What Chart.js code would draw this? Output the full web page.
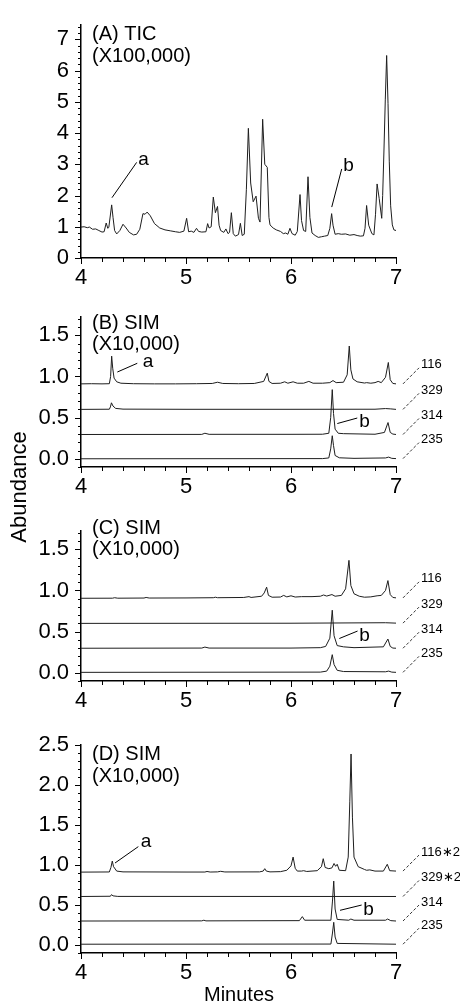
<!DOCTYPE html>
<html>
<head>
<meta charset="utf-8">
<script src="https://cdn.jsdelivr.net/npm/chart.js@4.4.1/dist/chart.umd.min.js"></script>
<style>
  html, body { margin: 0; padding: 0; background: #fff; }
  body { width: 460px; height: 1003px; position: relative; overflow: hidden;
         font-family: "Liberation Sans", Arial, sans-serif; color: #000; }
  canvas { position: absolute; left: 0; }
  #yTitle { position: absolute; left: -81px; top: 476px; width: 200px; line-height: 22px;
            font-size: 22px; text-align: center; transform: rotate(-90deg); }
  #xTitle { position: absolute; left: 139px; top: 984px; width: 200px; line-height: 20px;
            font-size: 20px; text-align: center; }
</style>
</head>
<body>
<canvas id="panelA" width="460" height="292" style="top:0px"></canvas>
<canvas id="panelB" width="460" height="214" style="top:292px"></canvas>
<canvas id="panelC" width="460" height="214" style="top:506px"></canvas>
<canvas id="panelD" width="460" height="283" style="top:720px"></canvas>
<div id="yTitle">Abundance</div>
<div id="xTitle">Minutes</div>

<script>
// ===== 데이터: [시간(min), abundance] =====
const ticTrace = [
  [4.00,0.99],[4.03,1.00],[4.06,0.97],[4.08,0.99],[4.11,0.92],[4.14,0.93],[4.17,0.88],[4.20,0.83],
  [4.22,0.84],[4.24,1.12],[4.255,0.95],[4.265,0.98],[4.292,1.70],[4.305,1.30],[4.32,0.88],[4.34,0.77],
  [4.37,0.88],[4.40,1.08],[4.43,0.96],[4.46,0.82],[4.50,0.74],[4.53,0.76],[4.56,0.92],[4.59,1.42],
  [4.61,1.40],[4.63,1.47],[4.66,1.35],[4.70,1.10],[4.75,0.96],[4.80,0.90],[4.85,0.87],[4.90,0.84],
  [4.94,0.82],[4.98,0.86],[5.006,1.27],[5.025,0.84],[5.05,0.86],[5.075,0.82],[5.10,0.95],[5.12,0.85],
  [5.15,0.83],[5.19,0.84],[5.206,1.10],[5.22,0.96],[5.24,1.00],[5.26,1.95],[5.28,1.45],[5.30,1.65],
  [5.315,1.05],[5.33,0.88],[5.36,0.82],[5.38,0.93],[5.40,0.78],[5.415,0.82],[5.432,1.45],[5.45,0.78],
  [5.47,0.70],[5.50,0.75],[5.518,1.11],[5.535,0.72],[5.555,0.76],[5.575,2.20],[5.594,4.15],[5.616,2.40],
  [5.64,1.80],[5.667,1.98],[5.69,1.27],[5.705,1.15],[5.73,4.44],[5.75,3.00],[5.774,2.90],[5.79,1.30],
  [5.80,1.06],[5.83,0.96],[5.86,0.90],[5.90,0.85],[5.927,0.78],[5.95,0.80],[5.97,0.76],[5.99,0.95],
  [6.01,0.78],[6.04,0.73],[6.06,0.85],[6.086,2.03],[6.10,1.20],[6.12,0.88],[6.14,0.85],[6.162,2.60],
  [6.18,1.30],[6.20,0.80],[6.23,0.72],[6.26,0.66],[6.29,0.68],[6.32,0.70],[6.35,0.72],[6.37,0.95],
  [6.387,1.42],[6.40,1.05],[6.42,0.76],[6.45,0.78],[6.48,0.76],[6.52,0.77],[6.56,0.73],[6.60,0.75],
  [6.63,0.72],[6.66,0.70],[6.69,0.71],[6.705,0.95],[6.72,1.68],[6.74,1.05],[6.77,0.78],[6.79,0.74],
  [6.805,1.40],[6.82,2.37],[6.84,1.90],[6.864,1.27],[6.873,2.00],[6.886,3.52],[6.898,5.06],[6.911,6.48],
  [6.924,4.95],[6.936,3.10],[6.949,1.67],[6.965,1.06],[6.98,0.90],[7.00,0.88]
];

// (B) SIM
const simB116 = [
  [4.00,0.910],[4.10,0.912],[4.20,0.910],[4.27,0.912],[4.282,1.00],[4.292,1.247],[4.302,1.10],[4.315,0.98],
  [4.34,0.935],[4.38,0.918],[4.50,0.912],[4.70,0.910],[4.90,0.910],[5.10,0.912],[5.25,0.915],[5.30,0.930],
  [5.35,0.915],[5.50,0.912],[5.65,0.915],[5.74,0.940],[5.774,1.04],[5.79,0.94],[5.82,0.915],[5.90,0.918],
  [5.94,0.935],[5.97,0.918],[6.02,0.935],[6.06,0.918],[6.12,0.918],[6.17,0.940],[6.21,0.918],[6.30,0.918],
  [6.37,0.925],[6.40,0.950],[6.43,0.925],[6.50,0.930],[6.535,1.02],[6.555,1.37],[6.57,1.08],[6.59,0.97],
  [6.63,0.935],[6.70,0.920],[6.72,0.925],[6.76,0.918],[6.80,0.925],[6.83,0.940],[6.86,0.925],[6.90,0.99],
  [6.927,1.17],[6.945,0.96],[6.97,0.915],[7.00,0.910]
];
const simB329 = [
  [4.00,0.600],[4.27,0.602],[4.28,0.630],[4.29,0.680],[4.305,0.640],[4.33,0.612],[4.40,0.603],
  [5.00,0.601],[6.00,0.601],[6.80,0.602],[6.90,0.610],[6.95,0.606],[7.00,0.600]
];
const simB314 = [
  [4.00,0.295],[5.15,0.296],[5.18,0.31],[5.22,0.297],[6.00,0.297],[6.30,0.298],[6.36,0.31],[6.378,0.50],
  [6.393,0.84],[6.405,0.55],[6.42,0.36],[6.45,0.31],[6.50,0.305],[6.80,0.298],[6.89,0.32],[6.924,0.44],
  [6.945,0.32],[6.97,0.30],[7.00,0.295]
];
const simB235 = [
  [4.00,0.000],[6.30,0.002],[6.36,0.01],[6.378,0.12],[6.393,0.28],[6.405,0.16],[6.42,0.04],[6.46,0.012],
  [6.60,0.005],[6.90,0.01],[6.93,0.02],[6.96,0.005],[7.00,0.002]
];

// (C) SIM
const simC116 = [
  [4.00,0.905],[4.30,0.906],[4.32,0.912],[4.35,0.906],[4.60,0.908],[4.62,0.915],[4.65,0.908],[5.00,0.909],
  [5.26,0.912],[5.28,0.918],[5.30,0.912],[5.55,0.915],[5.60,0.925],[5.62,0.915],[5.72,0.93],[5.745,0.97],
  [5.768,1.04],[5.785,0.94],[5.82,0.918],[5.90,0.92],[5.93,0.94],[5.96,0.922],[6.00,0.935],[6.04,0.92],
  [6.10,0.925],[6.20,0.925],[6.28,0.93],[6.31,0.945],[6.34,0.932],[6.39,0.95],[6.42,0.93],[6.48,0.94],
  [6.52,1.02],[6.552,1.366],[6.57,1.06],[6.60,0.96],[6.65,0.93],[6.70,0.918],[6.76,0.922],[6.82,0.935],
  [6.86,0.94],[6.90,1.00],[6.923,1.12],[6.945,0.95],[6.97,0.915],[7.00,0.910]
];
const simC329 = [[4.00,0.600],[5.00,0.601],[6.00,0.602],[6.90,0.608],[7.00,0.603]];
const simC314 = [
  [4.00,0.298],[5.15,0.300],[5.18,0.312],[5.22,0.300],[6.00,0.300],[6.28,0.305],[6.33,0.32],[6.37,0.42],
  [6.393,0.76],[6.41,0.45],[6.44,0.33],[6.50,0.315],[6.60,0.305],[6.88,0.315],[6.923,0.41],[6.945,0.32],
  [6.97,0.30],[7.00,0.298]
];
const simC235 = [
  [4.00,0.005],[6.28,0.008],[6.34,0.02],[6.37,0.08],[6.393,0.22],[6.41,0.10],[6.44,0.03],[6.50,0.015],
  [6.90,0.012],[6.93,0.02],[6.96,0.008],[7.00,0.005]
];

// (D) SIM
const simD116 = [
  [4.00,0.912],[4.27,0.914],[4.285,0.97],[4.298,1.05],[4.31,0.98],[4.34,0.925],[4.40,0.915],[5.00,0.913],
  [5.18,0.913],[5.20,0.920],[5.23,0.913],[5.30,0.915],[5.33,0.922],[5.37,0.914],[5.70,0.915],[5.735,0.925],
  [5.75,0.955],[5.765,0.925],[5.80,0.915],[5.90,0.918],[5.96,0.935],[6.00,0.99],[6.02,1.10],[6.04,0.96],
  [6.06,0.925],[6.10,0.925],[6.12,0.93],[6.15,0.92],[6.25,0.93],[6.29,0.98],[6.307,1.08],[6.325,0.97],
  [6.36,0.955],[6.39,0.965],[6.41,1.02],[6.425,0.985],[6.44,1.01],[6.46,0.935],[6.52,0.93],[6.545,1.10],
  [6.560,1.80],[6.572,2.39],[6.585,1.60],[6.60,1.10],[6.64,0.98],[6.70,0.945],[6.72,0.935],[6.75,0.940],
  [6.80,0.925],[6.88,0.925],[6.917,1.01],[6.94,0.93],[7.00,0.925]
];
const simD329 = [
  [4.00,0.607],[4.28,0.610],[4.29,0.630],[4.305,0.615],[4.35,0.608],[7.00,0.607]
];
const simD314 = [
  [4.00,0.300],[5.15,0.302],[5.17,0.31],[5.19,0.302],[6.08,0.305],[6.108,0.355],[6.13,0.31],[6.38,0.31],
  [6.395,0.55],[6.407,0.80],[6.42,0.45],[6.44,0.32],[6.55,0.31],[6.57,0.325],[6.60,0.31],[6.90,0.31],
  [6.92,0.325],[6.95,0.305],[7.00,0.300]
];
const simD235 = [
  [4.00,0.01],[6.38,0.012],[6.395,0.15],[6.407,0.284],[6.42,0.10],[6.44,0.02],[7.00,0.01]
];

// 이온 라벨 / 축 눈금
const simLabels = ['116', '329', '314', '235'];
const simLabelsD = ['116\u22172', '329\u22172', '314', '235'];
const timeTicks = [4, 5, 6, 7];
const ticTicks = [0, 1, 2, 3, 4, 5, 6, 7];
const simTicks = [0, 0.5, 1.0, 1.5];
const simTicksD = [0, 0.5, 1.0, 1.5, 2.0, 2.5];

// 피크 표시 (a, b)
const marksA = [
  { text: 'a', line: [[4.295, 1.93], [4.53, 3.06]], at: [4.546, 2.98] },
  { text: 'b', line: [[6.388, 1.63], [6.483, 2.85]], at: [6.498, 2.80] }
];
const marksB = [
  { text: 'a', line: [[4.346, 1.054], [4.536, 1.16]], at: [4.587, 1.113] },
  { text: 'b', line: [[6.441, 0.428], [6.631, 0.495]], at: [6.65, 0.388] }
];
const marksC = [
  { text: 'b', line: [[6.46, 0.416], [6.634, 0.507]], at: [6.65, 0.385] }
];
const marksD = [
  { text: 'a', line: [[4.324, 1.026], [4.546, 1.231]], at: [4.569, 1.231] },
  { text: 'b', line: [[6.467, 0.434], [6.673, 0.50]], at: [6.689, 0.37] }
];

const FONT = '"Liberation Sans", Arial, sans-serif';

// ---------------------- 공통 함수 ----------------------
function stepTicks(min, max, step) {
  const out = [];
  for (let i = Math.ceil(min / step - 1e-9); i * step <= max + 1e-9; i++) {
    out.push(Math.round(i * step * 1000) / 1000);
  }
  return out;
}

function isIn(list, v) {
  return list.some(m => Math.abs(m - v) < 1e-6);
}

function makePanel(id, cfg) {
  const canvas = document.getElementById(id);

  // 눈금선 + 제목 + 라벨 그리기
  const decor = {
    id: 'decor_' + id,
    afterDraw(chart) {
      const ctx = chart.ctx;
      const xs = chart.scales.x;
      const ys = chart.scales.y;
      const area = chart.chartArea;
      ctx.save();

      // 축 눈금 (major / minor)
      ctx.strokeStyle = '#000';
      ctx.lineWidth = 1;
      ctx.beginPath();
      xs.ticks.forEach(t => {
        const px = Math.round(xs.getPixelForValue(t.value)) + 0.5;
        const len = isIn(timeTicks, t.value) ? 6 : 4;
        ctx.moveTo(px, xs.top);
        ctx.lineTo(px, xs.top + len);
      });
      ys.ticks.forEach(t => {
        const py = Math.round(ys.getPixelForValue(t.value)) + 0.5;
        const len = isIn(cfg.yMajor, t.value) ? 6 : 3;
        ctx.moveTo(ys.right, py);
        ctx.lineTo(ys.right - len, py);
      });
      ctx.stroke();

      // 패널 제목
      ctx.fillStyle = '#000';
      ctx.font = '20px ' + FONT;
      ctx.textAlign = 'left';
      ctx.textBaseline = 'alphabetic';
      ctx.fillText(cfg.title[0], area.left + 11, area.top + cfg.titleOff[0]);
      ctx.fillText(cfg.title[1], area.left + 11, area.top + cfg.titleOff[1]);

      // a / b 표시
      ctx.font = '19px ' + FONT;
      ctx.lineWidth = 1;
      cfg.marks.forEach(m => {
        ctx.beginPath();
        ctx.moveTo(xs.getPixelForValue(m.line[0][0]), ys.getPixelForValue(m.line[0][1]));
        ctx.lineTo(xs.getPixelForValue(m.line[1][0]), ys.getPixelForValue(m.line[1][1]));
        ctx.stroke();
        ctx.fillText(m.text, xs.getPixelForValue(m.at[0]), ys.getPixelForValue(m.at[1]));
      });

      // 오른쪽 이온 라벨 (점선)
      if (cfg.labels) {
        ctx.font = '13px ' + FONT;
        ctx.textBaseline = 'middle';
        ctx.strokeStyle = '#333';
        ctx.lineWidth = 1;
        ctx.setLineDash([3, 2]);
        cfg.traces.forEach((tr, i) => {
          const yb = ys.getPixelForValue(tr[tr.length - 1][1]);
          const x0 = xs.right + 7;
          ctx.beginPath();
          ctx.moveTo(x0, yb);
          ctx.lineTo(x0 + 16, yb - 16);
          ctx.stroke();
          ctx.fillText(cfg.labels[i], x0 + 18, yb - 19);
        });
        ctx.setLineDash([]);
      }
      ctx.restore();
    }
  };

  const yTickList = stepTicks(cfg.yMin, cfg.yMax, cfg.yStep);
  const xTickList = stepTicks(4, 7, 0.2);

  return new Chart(canvas.getContext('2d'), {
    type: 'line',
    data: {
      datasets: cfg.traces.map(tr => ({
        data: tr.map(p => ({ x: p[0], y: p[1] })),
        borderColor: '#1e1e1e',
        borderWidth: 1,
        pointRadius: 0,
        tension: 0,
        fill: false
      }))
    },
    options: {
      responsive: false,
      animation: false,
      devicePixelRatio: 1,
      layout: { padding: { left: 0, right: 64, top: cfg.padTop, bottom: 0 } },
      plugins: { legend: { display: false }, tooltip: { enabled: false } },
      scales: {
        x: {
          type: 'linear',
          min: 4,
          max: 7,
          afterBuildTicks: s => { s.ticks = xTickList.map(v => ({ value: v })); },
          afterFit: s => { s.height = cfg.xHeight; },
          grid: { display: false, drawTicks: false },
          border: { display: true, color: '#000', width: 1.5 },
          ticks: {
            autoSkip: false,
            maxRotation: 0,
            padding: 7,
            color: '#000',
            font: { family: FONT, size: 22 },
            callback: v => isIn(timeTicks, v) ? String(Math.round(v)) : ''
          }
        },
        y: {
          type: 'linear',
          min: cfg.yMin,
          max: cfg.yMax,
          afterBuildTicks: s => { s.ticks = yTickList.map(v => ({ value: v })); },
          afterFit: s => { s.width = 81; },
          grid: { display: false, drawTicks: false },
          border: { display: true, color: '#000', width: 1.5 },
          ticks: {
            autoSkip: false,
            padding: 12,
            color: '#000',
            font: { family: FONT, size: 22 },
            callback: v => isIn(cfg.yMajor, v) ? cfg.yFmt(v) : ''
          }
        }
      }
    },
    plugins: [decor]
  });
}

// ---------------------- 패널 생성 ----------------------
makePanel('panelA', {
  traces: [ticTrace],
  yMin: 0, yMax: 7.45, yStep: 0.2, yMajor: ticTicks, yFmt: v => String(Math.round(v)),
  padTop: 15, xHeight: 34,
  title: ['(A) TIC', '(X100,000)'], titleOff: [15, 36.5],
  marks: marksA
});

makePanel('panelB', {
  traces: [simB116, simB329, simB314, simB235],
  yMin: -0.1, yMax: 1.72, yStep: 0.1, yMajor: simTicks, yFmt: v => v.toFixed(1),
  padTop: 21, xHeight: 39,
  title: ['(B) SIM', '(X10,000)'], titleOff: [12, 33],
  marks: marksB, labels: simLabels
});

makePanel('panelC', {
  traces: [simC116, simC329, simC314, simC235],
  yMin: -0.1, yMax: 1.72, yStep: 0.1, yMajor: simTicks, yFmt: v => v.toFixed(1),
  padTop: 21, xHeight: 39,
  title: ['(C) SIM', '(X10,000)'], titleOff: [3, 24],
  marks: marksC, labels: simLabels
});

makePanel('panelD', {
  traces: [simD116, simD329, simD314, simD235],
  yMin: -0.1, yMax: 2.5, yStep: 0.1, yMajor: simTicksD, yFmt: v => v.toFixed(1),
  padTop: 13, xHeight: 50,
  title: ['(D) SIM', '(X10,000)'], titleOff: [15, 36.5],
  marks: marksD, labels: simLabelsD
});
</script>
</body>
</html>
